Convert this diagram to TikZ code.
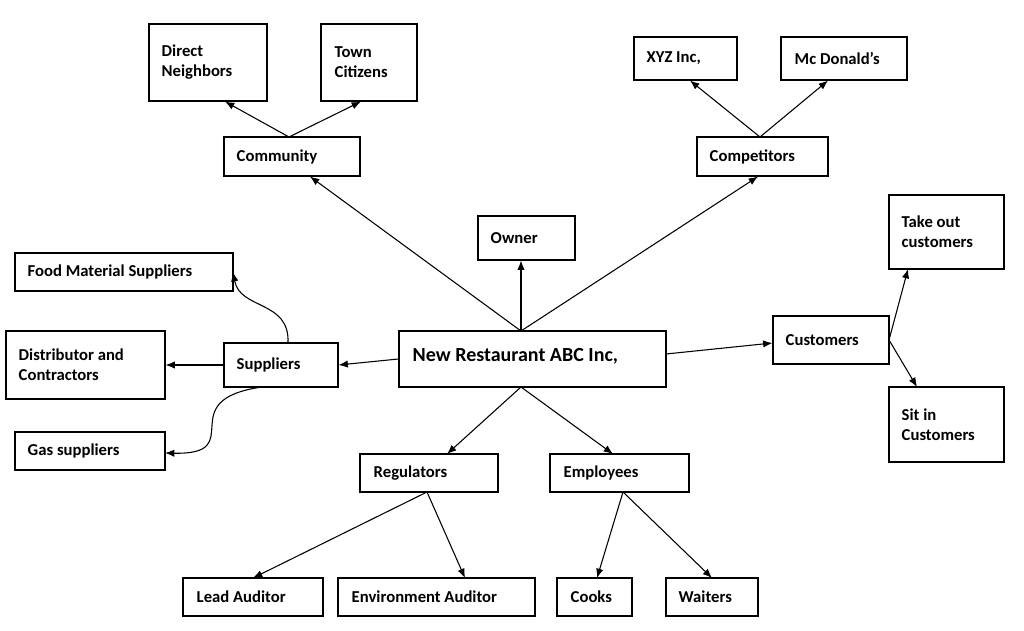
\documentclass[tikz,border=0pt]{standalone}
\usepackage{fontspec}
\setmainfont{Carlito}
\usetikzlibrary{arrows.meta,fit}
\tikzset{
  box/.style={draw,line width=0.8pt,inner sep=0pt},
  txt/.style={anchor=west,align=left,inner sep=0pt,font=\bfseries\fontsize{12.5pt}{15pt}\selectfont},
  arr/.style={-{Latex[length=7pt,width=5.5pt]},line width=0.8pt}
}
\newcommand{\bx}[7]{%
  \node[box,fit={(#2,#3) (#4,#5)}] (#1) {};
  \node[txt] (#1t) at ([xshift=#6*0.75pt]#1.west) {#7};}
\begin{document}
\begin{tikzpicture}[x=0.75pt,y=-0.75pt]
\useasboundingbox (0,0) rectangle (1024,631);
\bx{dn}{149}{24}{267}{101}{13}{Direct\\Neighbors}
\bx{tc}{321}{24}{417}{101}{14}{Town\\Citizens}
\bx{com}{224}{137}{360}{176}{13}{Community}
\bx{xyz}{634}{37}{737}{80}{13}{XYZ Inc,}
\bx{mcd}{781}{37}{907}{80}{14}{Mc Donald’s}
\bx{cmp}{697}{137}{828}{176}{13}{Competitors}
\bx{own}{478}{216}{575}{260}{13}{Owner}
\bx{tak}{889}{195}{1004}{269}{13}{Take out\\customers}
\bx{food}{15}{253}{233}{291}{13}{Food Material Suppliers}
\bx{dis}{6}{331}{165}{399}{13}{Distributor and\\Contractors}
\bx{sup}{224}{343}{338}{387}{13}{Suppliers}
\node[box,fit={(399,331) (666,387)}] (main) {};
\node[txt,font=\bfseries\fontsize{15pt}{18pt}\selectfont] (maint) at ([xshift=14*0.75pt,yshift=2pt]main.west) {New Restaurant ABC Inc,};
\bx{cus}{773}{316}{889}{364}{13}{Customers}
\bx{sit}{889}{387}{1004}{462}{13}{Sit in\\Customers}
\bx{gas}{15}{432}{165}{470}{13}{Gas suppliers}
\bx{reg}{360}{454}{498}{492}{14}{Regulators}
\bx{emp}{550}{454}{689}{492}{14}{Employees}
\bx{lead}{183}{578}{323}{616}{14}{Lead Auditor}
\bx{env}{338}{578}{535}{616}{14}{Environment Auditor}
\bx{cook}{557}{578}{632}{616}{14}{Cooks}
\bx{wait}{666}{578}{758}{616}{13}{Waiters}
\coordinate (comT) at (289,137);
\draw[arr] (comT) -- (dn.south -| 225,0);
\draw[arr] (comT) -- (tc.south -| 361,0);
\coordinate (cmpT) at (760,137);
\draw[arr] (cmpT) -- (xyz.south -| 690,0);
\draw[arr] (cmpT) -- (mcd.south -| 828,0);
\coordinate (mT) at (521,331);
\draw[arr] (mT) -- (com.south -| 310,0);
\draw[arr] (mT) -- (own.south -| 521,0);
\draw[arr] (mT) -- (cmp.south -| 758,0);
\draw[arr] (main.west) -- (sup.east);
\draw[arr] (sup.west) -- (dis.east |- sup.west);
\draw[arr] (288,343) .. controls (290,300) and (240,310) .. (233,272);
\draw[arr] (262,387) .. controls (170,400) and (250,455) .. (165,453);
\draw[arr] (666,354) -- (cus.west |- 0,343);
\coordinate (cusR) at (889,340);
\draw[arr] (cusR) -- (908,269);
\draw[arr] (cusR) -- (917,387);
\coordinate (mB) at (521,387);
\draw[arr] (mB) -- (447,454);
\draw[arr] (mB) -- (613,454);
\coordinate (regB) at (427,492);
\draw[arr] (regB) -- (253,578);
\draw[arr] (regB) -- (465,578);
\coordinate (empB) at (623,492);
\draw[arr] (empB) -- (597,578);
\draw[arr] (empB) -- (712,578);
\end{tikzpicture}
\end{document}
